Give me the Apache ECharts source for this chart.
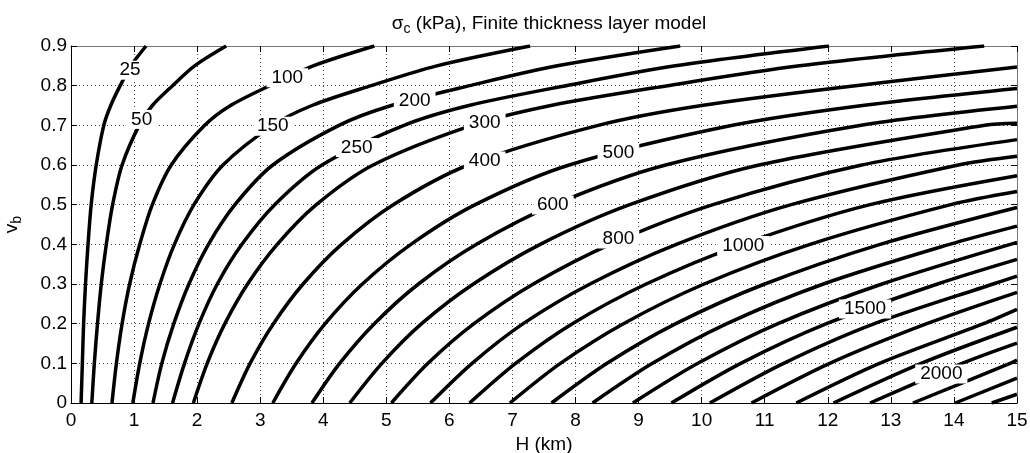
<!DOCTYPE html>
<html>
<head>
<meta charset="utf-8">
<script src="https://cdn.jsdelivr.net/npm/echarts@6/dist/echarts.min.js"></script>
<style>
  html, body { margin: 0; padding: 0; background: #fff; }
  #chart { width: 1030px; height: 453px; }
</style>
</head>
<body>
<div id="chart"></div>
<script>
// contour levels (kPa)
const levels = [25, 50, 100, 150, 200, 250, 300, 400, 500, 600, 700, 800, 900, 1000,
    1100, 1200, 1300, 1400, 1500, 1600, 1700, 1800, 1900, 2000, 2100, 2200, 2300];

// v_b values at which each contour's H position was read
const vLevels = [0, 0.1, 0.2, 0.3, 0.4, 0.5, 0.6, 0.7, 0.75, 0.8, 0.85, 0.9];

// H (km) of each contour at vLevels (only while inside the plot)
const contourH = [
    [0.16, 0.18, 0.20, 0.23, 0.27, 0.32, 0.40, 0.52, 0.63, 0.78, 0.95, 1.19],
    [0.33, 0.37, 0.42, 0.48, 0.56, 0.66, 0.81, 1.08, 1.29, 1.61, 1.96, 2.46],
    [0.65, 0.72, 0.81, 0.93, 1.09, 1.29, 1.59, 2.12, 2.53, 3.15, 3.84, 4.81],
    [0.98, 1.09, 1.23, 1.41, 1.64, 1.95, 2.41, 3.20, 3.82, 4.76, 5.80, 7.28],
    [1.30, 1.44, 1.63, 1.87, 2.18, 2.60, 3.20, 4.25, 5.08, 6.32, 7.71, 9.66],
    [1.61, 1.80, 2.03, 2.32, 2.71, 3.23, 3.98, 5.28, 6.31, 7.85, 9.58, 12.02],
    [1.94, 2.16, 2.44, 2.80, 3.27, 3.89, 4.79, 6.36, 7.61, 9.46, 11.55, 14.48],
    [2.55, 2.84, 3.21, 3.68, 4.29, 5.11, 6.30, 8.36, 10.00, 12.44],
    [3.20, 3.57, 4.03, 4.62, 5.39, 6.41, 7.90, 10.49, 12.55],
    [3.82, 4.26, 4.81, 5.51, 6.43, 7.66, 9.43, 12.53],
    [4.42, 4.93, 5.56, 6.38, 7.44, 8.86, 10.91, 14.49],
    [5.08, 5.66, 6.39, 7.33, 8.55, 10.18, 12.54],
    [5.70, 6.36, 7.17, 8.23, 9.60, 11.42, 14.07],
    [6.32, 7.05, 7.95, 9.12, 10.64, 12.67],
    [6.96, 7.76, 8.76, 10.04, 11.72, 13.95],
    [7.62, 8.50, 9.59, 11.00, 12.83],
    [8.27, 9.22, 10.40, 11.93, 13.93],
    [8.91, 9.94, 11.21, 12.86],
    [9.52, 10.62, 11.98, 13.74],
    [10.13, 11.30, 12.74, 14.62],
    [10.79, 12.03, 13.57],
    [11.50, 12.82, 14.47],
    [12.09, 13.48],
    [12.67, 14.13],
    [13.35, 14.89],
    [14.02],
    [14.60]
];

// v_b where each contour leaves through the right edge (H = 15); null = leaves through the top
const edgeV = [null, null, null, null, null, null, null, 0.847, 0.793, 0.748, 0.705, 0.664,
    0.622, 0.573, 0.533, 0.493, 0.446, 0.405, 0.362, 0.320, 0.279, 0.236, 0.191, 0.151,
    0.108, 0.063, 0.022];

// inline contour labels
const labelText = ['25', '50', '100', '150', '200', '250', '300', '400', '500', '600', '800', '1000', '1500', '2000'];
const labelH = [0.935, 1.12, 3.43, 3.20, 5.45, 4.53, 6.56, 6.56, 8.68, 7.64, 8.68, 10.66, 12.59, 13.80];
const labelV = [0.839, 0.715, 0.820, 0.698, 0.763, 0.644, 0.706, 0.610, 0.631, 0.499, 0.4135, 0.397, 0.237, 0.073];

const xTicks = ['0', '1', '2', '3', '4', '5', '6', '7', '8', '9', '10', '11', '12', '13', '14', '15'];
const yTicks = ['0', '0.1', '0.2', '0.3', '0.4', '0.5', '0.6', '0.7', '0.8', '0.9'];

const chart = echarts.init(document.getElementById('chart'), null, { renderer: 'canvas' });

const FONT = '"Liberation Sans", Arial, Helvetica, sans-serif';

const series = levels.map((lv, i) => {
    const pts = contourH[i].map((h, k) => [h, vLevels[k]]);
    if (edgeV[i] !== null) pts.push([15, edgeV[i]]);
    return {
        name: String(lv),
        type: 'line',
        data: pts,
        showSymbol: false,
        smooth: 0.3,
        clip: true,
        silent: true,
        lineStyle: { color: '#000', width: 3.5 },
        z: 3
    };
});

// contour labels sit on a white box that opens a gap in the line
series.push({
    type: 'scatter',
    data: labelText.map((t, i) => [labelH[i], labelV[i], t]),
    symbolSize: 1,
    itemStyle: { color: 'rgba(255,255,255,0)', opacity: 1 },
    silent: true,
    z: 5,
    label: {
        show: true,
        position: 'inside',
        formatter: p => p.value[2],
        fontFamily: FONT,
        fontSize: 19,
        color: '#000',
        opacity: 1,
        textBorderWidth: 0,
        textBorderColor: 'transparent',
        backgroundColor: '#fff',
        padding: [1, 5],
        lineHeight: 17
    }
});

const option = {
    animation: false,
    backgroundColor: '#fff',
    title: {
        text: '{s|σ}{sub|c}{t| (kPa), Finite thickness layer model}',
        left: 544,
        textAlign: 'center',
        top: 7,
        textStyle: {
            fontWeight: 'normal',
            rich: {
                s: { fontFamily: FONT, fontSize: 19, fontWeight: 'normal', color: '#000' },
                sub: { fontFamily: FONT, fontSize: 14, fontWeight: 'normal', color: '#000', padding: [10, 0, 0, 0] },
                t: { fontFamily: FONT, fontSize: 19, fontWeight: 'normal', color: '#000' }
            }
        }
    },
    grid: { left: 71, right: 13, top: 46, bottom: 50, containLabel: false, outerBoundsMode: 'none' },
    xAxis: [{
        type: 'value',
        min: 0, max: 15, interval: 1,
        position: 'bottom',
        name: 'H (km)',
        nameLocation: 'middle',
        nameGap: 24,
        nameTextStyle: { fontFamily: FONT, fontSize: 19, color: '#000' },
        axisLine: { show: true, onZero: false, lineStyle: { color: '#000', width: 1 } },
        axisTick: { show: true, inside: true, length: 6, lineStyle: { color: '#000' } },
        axisLabel: { fontFamily: FONT, fontSize: 19, color: '#000', margin: 8,
            formatter: v => xTicks[Math.round(v)] },
        splitLine: { show: true, lineStyle: { type: [1, 3], color: '#444', width: 1 } }
    }, {
        type: 'value',
        min: 0, max: 15, interval: 1,
        position: 'top',
        axisLine: { show: true, onZero: false, lineStyle: { color: '#777', width: 1 } },
        axisTick: { show: true, inside: true, length: 6, lineStyle: { color: '#000' } },
        axisLabel: { show: false },
        splitLine: { show: false }
    }],
    yAxis: [{
        type: 'value',
        min: 0, max: 0.9, interval: 0.1,
        position: 'left',
        name: '{v|v}{b|b}',
        nameLocation: 'middle',
        nameRotate: 90,
        nameGap: 47,
        nameTextStyle: {
            rich: {
                v: { fontFamily: FONT, fontSize: 19, color: '#000' },
                b: { fontFamily: FONT, fontSize: 14, color: '#000', padding: [10, 0, 0, 0] }
            }
        },
        axisLine: { show: true, onZero: false, lineStyle: { color: '#000', width: 1 } },
        axisTick: { show: true, inside: true, length: 6, lineStyle: { color: '#000' } },
        axisLabel: { fontFamily: FONT, fontSize: 19, color: '#000', margin: 4,
            formatter: v => yTicks[Math.round(v * 10)] },
        splitLine: { show: true, lineStyle: { type: [1, 3], color: '#444', width: 1 } }
    }, {
        type: 'value',
        min: 0, max: 0.9, interval: 0.1,
        position: 'right',
        axisLine: { show: true, onZero: false, lineStyle: { color: '#777', width: 1 } },
        axisTick: { show: true, inside: true, length: 6, lineStyle: { color: '#000' } },
        axisLabel: { show: false },
        splitLine: { show: false }
    }],
    series: series
};

chart.setOption(option);
</script>
</body>
</html>
